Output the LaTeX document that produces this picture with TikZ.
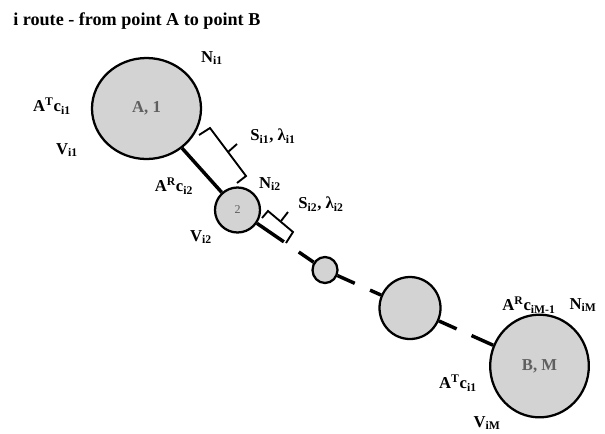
\documentclass[tikz,border=0pt]{standalone}
\usepackage{fontspec}
\setmainfont{Liberation Serif}
\usetikzlibrary{calc,shapes.geometric}
\definecolor{stopfill}{RGB}{211,211,211}
\definecolor{stoptext}{RGB}{95,95,95}
\tikzset{
  stop/.style={ellipse,draw=black,line width=1.7pt,fill=stopfill,inner sep=0pt,
    text=stoptext,font=\fontsize{12.5}{14}\selectfont\bfseries},
  link/.style={line width=2.6pt,black},
  brace/.style={line width=1.4pt,black,line join=miter},
  lbl/.style={font=\fontsize{12.5}{14}\selectfont\bfseries,inner sep=0pt}
}
\begin{document}
\begin{tikzpicture}[x=0.75pt,y=-0.75pt]
\useasboundingbox (0,0) rectangle (605,433);
\node[lbl,anchor=west,font=\fontsize{13.6}{15}\selectfont\bfseries] (title) at (13,21) {i route - from point A to point B};
% stops along the route
\node[stop,minimum width=81.75pt,minimum height=75.75pt] (nA) at (146.5,108.5) {A, 1};
\node[stop,minimum width=33.75pt,minimum height=33.75pt,font=\fontsize{9}{10}\selectfont] (n2) at (237.5,210) {2};
\node[stop,minimum width=18.75pt,minimum height=19.5pt] (n3) at (325,270) {};
\node[stop,minimum width=45.75pt,minimum height=46.5pt] (n4) at (410,308) {};
\node[stop,minimum width=74pt,minimum height=77pt] (nB) at (539.5,366) {B, M};
% gaps in the route
\coordinate (g1) at ($(n2)!0.53!(n3)$);
\coordinate (g2) at ($(n2)!0.70!(n3)$);
\coordinate (g3) at ($(n3)!0.35!(n4)$);
\coordinate (g4) at ($(n3)!0.53!(n4)$);
\coordinate (g5) at ($(n4)!0.36!(nB)$);
\coordinate (g6) at ($(n4)!0.475!(nB)$);
\draw[link] (nA) -- (n2);
\draw[link] (n2) -- (g1);
\draw[link] (g2) -- (n3);
\draw[link] (n3) -- (g3);
\draw[link] (g4) -- (n4);
\draw[link] (n4) -- (g5);
\draw[link] (g6) -- (nB);
% brackets
\draw[brace] (199,135) -- (210,128) -- (246,176) -- (237,183);
\draw[brace] (228,152) -- (237,144);
\draw[brace] (262,218) -- (268,211) -- (293,232) -- (286,243);
\draw[brace] (281,221) -- (288,212);
% labels
\node[lbl] (Ni1) at (212,58) {N\textsubscript{i1}};
\node[lbl] (ATci1) at (52,106) {A\textsuperscript{T}c\textsubscript{i1}};
\node[lbl] (Vi1) at (67,150) {V\textsubscript{i1}};
\node[lbl] (Si1) at (273,136) {S\textsubscript{i1}, λ\textsubscript{i1}};
\node[lbl] (ARci2) at (174,186) {A\textsuperscript{R}c\textsubscript{i2}};
\node[lbl] (Ni2) at (270,184) {N\textsubscript{i2}};
\node[lbl] (Si2) at (321,204) {S\textsubscript{i2}, λ\textsubscript{i2}};
\node[lbl] (Vi2) at (201,237) {V\textsubscript{i2}};
\node[lbl] (ARciM) at (529,305) {A\textsuperscript{R}c\textsubscript{iM-1}};
\node[lbl] (NiM) at (583,305) {N\textsubscript{iM}};
\node[lbl] (ATciB) at (458,383) {A\textsuperscript{T}c\textsubscript{i1}};
\node[lbl] (ViM) at (487,423) {V\textsubscript{iM}};
\end{tikzpicture}
\end{document}
